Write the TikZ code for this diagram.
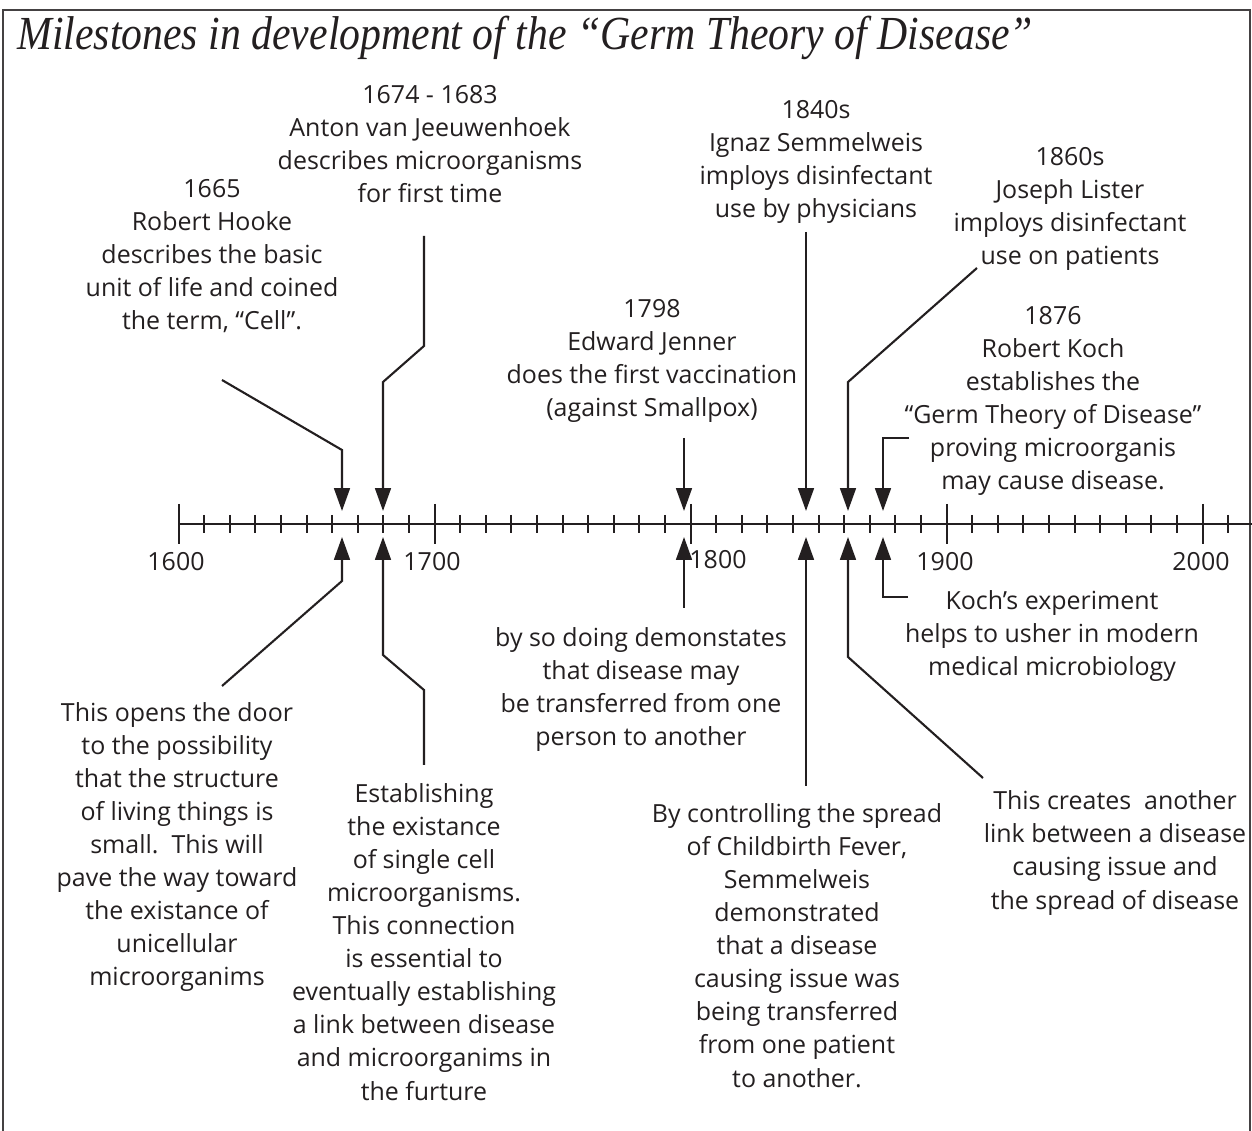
\documentclass[tikz,border=0pt]{standalone}
\usepackage{fontspec}
\setmainfont{Open Sans}
\newfontfamily\titlefont{Liberation Serif}
\usetikzlibrary{arrows.meta}
\definecolor{ink}{HTML}{231F20}
\tikzset{
  every picture/.style={ampersand replacement=\&},
  note/.style={align=center, anchor=base, inner sep=0pt, text=ink,
    font=\fontsize{14.2}{18.8}\selectfont},
  pointer/.style={ink, line width=1.2pt, line join=miter,
    -{Triangle[width=9pt,length=13pt]}},
  tick/.style={ink, line width=1.2pt}
}

\begin{document}
\begin{tikzpicture}[x=0.02cm, y=-0.02cm]
  \useasboundingbox (0,0) rectangle (1252,1131);
  % frame, open at the bottom
  \draw[ink!85, line width=1.6pt] (3,1140) -- (3,10) -- (1250,10) -- (1250,1140);
  \node[anchor=base west, inner sep=0pt, text=ink] (title) at (17,50)
    {\scalebox{0.88}[1]{\titlefont\itshape\fontsize{27}{30}\selectfont Milestones in development of the “Germ Theory of Disease”}};

  % time axis
  \draw[tick] (178.6,524) -- (1252,524);
  \foreach \yr in {1610,1620,...,2010}
    \draw[tick] ({178.6+(\yr-1600)*2.56},515) -- ++(0,18);
  \foreach \yr in {1600,1700,1800,1900,2000}
    \draw[tick] ({178.6+(\yr-1600)*2.56},504) -- ++(0,40);
  \node[note] (y1600) at (176,571) {1600};
  \node[note] (y1700) at (432,571) {1700};
  \node[note] (y1800) at (718,569) {1800};
  \node[note] (y1900) at (945,571) {1900};
  \node[note] (y2000) at (1201,571) {2000};

  % events above the axis (anchored on the last line)
  \node[note] (hookeTop) at (212,330) {1665\\Robert Hooke\\describes the basic\\unit of life and coined\\the term, “Cell”.};
  \node[note] (leeuTop) at (430,203) {1674 - 1683\\Anton van Jeeuwenhoek\\describes microorganisms\\for first time};
  \node[note] (jennerTop) at (652,417) {1798\\Edward Jenner\\does the first vaccination\\(against Smallpox)};
  \node[note] (semmelTop) at (816,218) {1840s\\Ignaz Semmelweis\\imploys disinfectant\\use by physicians};
  \node[note] (listerTop) at (1070,265) {1860s\\Joseph Lister\\imploys disinfectant\\use on patients};
  \node[note] (kochTop) at (1053,490) {1876\\Robert Koch\\establishes the\\“Germ Theory of Disease”\\proving microorganis\\may cause disease.};

  % notes below the axis
  \node[note] (hookeBot) at (177,986) {This opens the door\\to the possibility\\that the structure\\of living things is\\small.\ \ This will\\pave the way toward\\the existance of\\unicellular\\microorganims};
  \node[note] (leeuBot) at (424,1100) {Establishing\\the existance\\of single cell\\microorganisms.\\This connection\\is essential to\\eventually establishing\\a link between disease\\and microorganims in\\the furture};
  \node[note] (jennerBot) at (641,746) {by so doing demonstates\\that disease may\\be transferred from one\\person to another};
  \node[note] (semmelBot) at (797,1087) {By controlling the spread\\of Childbirth Fever,\\Semmelweis\\demonstrated\\that a disease\\causing issue was\\being transferred\\from one patient\\to another.};
  \node[note] (listerBot) at (1115,909) {This creates\ \ another\\link between a disease\\causing issue and\\the spread of disease};
  \node[note] (kochBot) at (1052,676) {Koch’s experiment\\helps to usher in modern\\medical microbiology};

  % arrow tips on the axis
  \coordinate (hookeUp) at (342,511);   \coordinate (hookeDn) at (342,537);
  \coordinate (leeuUp) at (383,511);    \coordinate (leeuDn) at (383,537);
  \coordinate (jennerUp) at (684,511);  \coordinate (jennerDn) at (684,537);
  \coordinate (semmelUp) at (806,511);  \coordinate (semmelDn) at (806,537);
  \coordinate (listerUp) at (848,511);  \coordinate (listerDn) at (848,537);
  \coordinate (kochUp) at (883,511);    \coordinate (kochDn) at (883,537);

  % upper connectors
  \coordinate (h1) at (222,380); \coordinate (h2) at (342,450);
  \draw[pointer] (h1) -- (h2) -- (hookeUp);
  \coordinate (l1) at (424,236); \coordinate (l2) at (424,346); \coordinate (l3) at (383,382);
  \draw[pointer] (l1) -- (l2) -- (l3) -- (leeuUp);
  \coordinate (j1) at (684,438);
  \draw[pointer] (j1) -- (jennerUp);
  \coordinate (s1) at (806,232);
  \draw[pointer] (s1) -- (semmelUp);
  \coordinate (r1) at (977,268); \coordinate (r2) at (848,382);
  \draw[pointer] (r1) -- (r2) -- (listerUp);
  \coordinate (k1) at (909,438); \coordinate (k2) at (883,438);
  \draw[pointer] (k1) -- (k2) -- (kochUp);

  % lower connectors
  \coordinate (h3) at (222,686); \coordinate (h4) at (342,581);
  \draw[pointer] (h3) -- (h4) -- (hookeDn);
  \coordinate (l4) at (424,765); \coordinate (l5) at (424,690); \coordinate (l6) at (383,655);
  \draw[pointer] (l4) -- (l5) -- (l6) -- (leeuDn);
  \coordinate (j2) at (684,608);
  \draw[pointer] (j2) -- (jennerDn);
  \coordinate (s2) at (806,786);
  \draw[pointer] (s2) -- (semmelDn);
  \coordinate (r3) at (983,778); \coordinate (r4) at (848,657);
  \draw[pointer] (r3) -- (r4) -- (listerDn);
  \coordinate (k3) at (908,597); \coordinate (k4) at (883,597);
  \draw[pointer] (k3) -- (k4) -- (kochDn);
\end{tikzpicture}
\end{document}
